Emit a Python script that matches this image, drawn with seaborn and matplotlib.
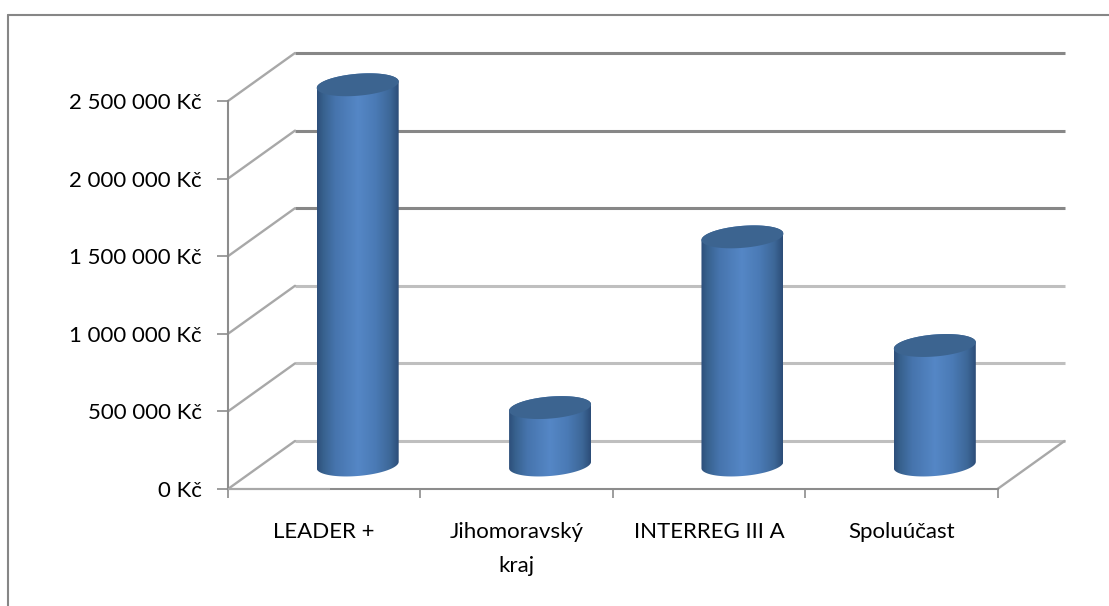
import numpy as np
import pandas as pd
import matplotlib
matplotlib.use("Agg")
import matplotlib.pyplot as plt
from matplotlib.lines import Line2D
from matplotlib.path import Path
from matplotlib.patches import PathPatch
from matplotlib.transforms import IdentityTransform
from matplotlib.colors import LinearSegmentedColormap
import seaborn as sns

categories = ["LEADER +", "Jihomoravský\nkraj", "INTERREG III A", "Spoluúčast"]
values = [2450000, 370000, 1470000, 770000]
y_ticks = [0, 500000, 1000000, 1500000, 2000000, 2500000]
y_labels = ["0 Kč", "500 000 Kč", "1 000 000 Kč", "1 500 000 Kč", "2 000 000 Kč", "2 500 000 Kč"]
grid_colors = ["#bfbfbf", "#bfbfbf", "#bfbfbf", "#878787", "#878787", "#878787"]

W, H = 1109, 606
DEPTH_X, DEPTH_Y = 67, 48

sns.set_theme(style="white")
plt.rcParams["font.family"] = ["Lato", "DejaVu Sans"]

fig = plt.figure(figsize=(W / 100, H / 100), dpi=100, facecolor="white")
ax = fig.add_axes([228 / W, 1 - 489 / H, (997.5 - 228) / W, (489 - 101) / H])
ax.patch.set_alpha(0)

df = pd.DataFrame({"category": categories, "value": values})
sns.barplot(data=df, x="category", y="value", width=82 / 192.4, ax=ax, saturation=1, color="#4f81bd")
ax.set_xlim(-0.5, 3.5)
ax.set_ylim(0, 2500000)
ax.set_xlabel("")
ax.set_ylabel("")

# back wall gridlines and depth lines
px_x = 4 / (997.5 - 228)
px_y = 2500000 / (489 - 101)
ddx, ddy = DEPTH_X * px_x, DEPTH_Y * px_y
for v, c in zip(y_ticks, grid_colors):
    ax.plot([-0.5 + ddx, 3.5 + ddx], [v + ddy, v + ddy], color=c, lw=2.2, clip_on=False,
            solid_capstyle="butt", zorder=1)
    ax.plot([-0.5, -0.5 + ddx], [v, v + ddy], color="#a8a8a8", lw=1.7, clip_on=False, zorder=1.5)
ax.plot([3.5, 3.5 + ddx], [0, ddy], color="#a8a8a8", lw=1.7, clip_on=False, zorder=1.5)

for s in ["top", "right"]:
    ax.spines[s].set_visible(False)
for s in ["left", "bottom"]:
    ax.spines[s].set_visible(True)
    ax.spines[s].set_color("#8c8c8c")
    ax.spines[s].set_linewidth(1.5)
    ax.spines[s].set_zorder(2)
ax.plot([-0.5, 0.03], [0, 0], color="#a8a8a8", lw=1.5, clip_on=False, zorder=2.5, solid_capstyle="butt")

ax.set_yticks(y_ticks, y_labels)
ax.set_xticks(np.arange(-0.5, 4.0, 1.0), [""] * 5)
ax.set_xticks(np.arange(len(categories)), categories, minor=True)
ax.tick_params(axis="y", which="major", length=8, width=1.2, color="#8c8c8c", labelsize=16,
               labelcolor="black", pad=11, left=True)
ax.tick_params(axis="x", which="major", length=6.5, width=1.2, color="#8c8c8c", bottom=True)
ax.tick_params(axis="x", which="minor", length=0, labelsize=16, labelcolor="black", pad=24)
for lab in ax.get_xticklabels(minor=True):
    lab.set_linespacing(1.85)
    lab.set_verticalalignment("top")

# cylinders, drawn from the bar geometry made by seaborn
cmap = LinearSegmentedColormap.from_list("cyl", [
    (0.00, "#2d4f7b"), (0.08, "#38628f"), (0.22, "#4674ad"), (0.50, "#5587c6"),
    (0.72, "#4a7ab5"), (0.90, "#3d6797"), (1.00, "#2c4d78")])
grad = np.linspace(0, 1, 128).reshape(1, -1)
TILT = 4.5
EH = 11
fig.canvas.draw()
for bar in ax.patches:
    x0, x1 = bar.get_x(), bar.get_x() + bar.get_width()
    h = bar.get_height()
    bar.set_visible(False)
    (px0, py0) = ax.transData.transform((x0, 0))
    (px1, py1) = ax.transData.transform((x1, h))
    px0 += DEPTH_X / 2; px1 += DEPTH_X / 2
    py0 += DEPTH_Y / 2; py1 += DEPTH_Y / 2
    w = px1 - px0
    cx = (px0 + px1) / 2
    tx = np.linspace(0, 2 * np.pi, 100)
    def ring(cy):
        ex = w / 2 * np.cos(tx)
        ey = EH * np.sin(tx)
        a = np.deg2rad(TILT)
        return np.c_[cx + ex, cy + ey + ex * np.sin(a)]
    bot, top = ring(py0), ring(py1)
    lower = bot[50:100]
    upper = top[0:50]
    body = np.vstack([lower, upper, lower[:1]])
    clip = PathPatch(Path(body), transform=IdentityTransform(), facecolor="none", edgecolor="none")
    im = ax.imshow(grad, cmap=cmap, aspect="auto", interpolation="bilinear",
                   extent=[px0, px1, py0 - 20, py1 + 20], transform=IdentityTransform(),
                   zorder=3, clip_on=True)
    im.set_clip_box(fig.bbox)
    im.set_clip_path(clip)
    ax.add_patch(PathPatch(Path(np.vstack([top, top[:1]])), transform=IdentityTransform(),
                           facecolor="#3c6490", edgecolor="none", zorder=4, clip_on=False))
ax.set_xlim(-0.5, 3.5)
ax.set_ylim(0, 2500000)

# chart frame: only top and left edges are inside the picture
fig.add_artist(Line2D([8 / W, 1], [1 - 14.5 / H] * 2, color="#868686", lw=1.5))
fig.add_artist(Line2D([8 / W, 8 / W], [1 - 14.5 / H, 0], color="#868686", lw=1.5))

fig.savefig("out.png", dpi=100, facecolor="white")
